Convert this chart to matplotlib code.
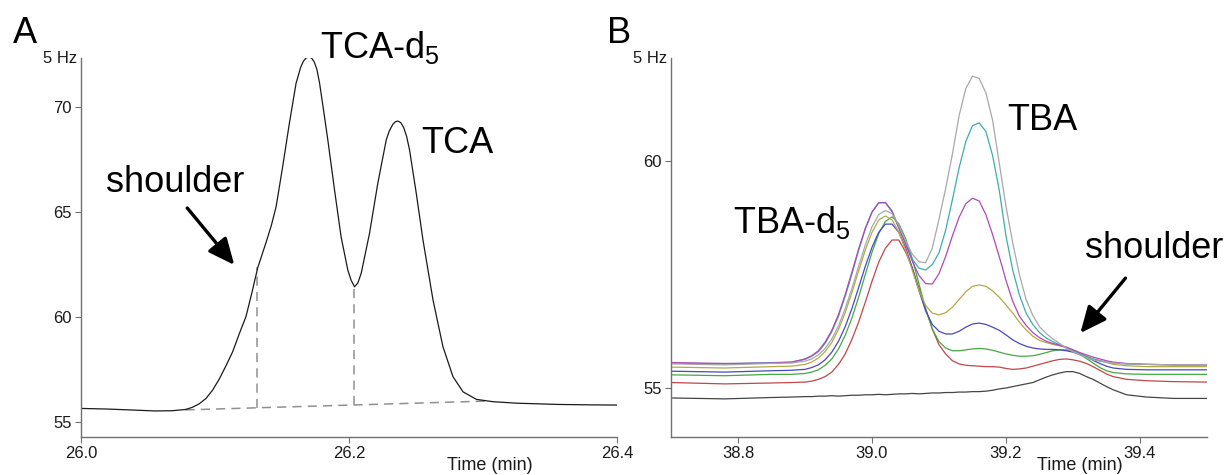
import matplotlib
matplotlib.use("Agg")
import matplotlib.pyplot as plt

plt.rcParams["font.family"] = ["Liberation Sans", "DejaVu Sans"]
plt.rcParams["mathtext.fontset"] = "custom"
plt.rcParams["mathtext.rm"] = "Liberation Sans"
plt.rcParams["mathtext.default"] = "regular"

# ── Panel A: TCA-d5 / TCA trace ──────────────────────────────────────────────
time_a = [26.000, 26.020, 26.040, 26.055, 26.068, 26.078, 26.083, 26.0882,
          26.0932, 26.0982, 26.1032, 26.1082, 26.1132, 26.1181, 26.1231,
          26.1275, 26.1319, 26.1350, 26.1381, 26.1420, 26.1456, 26.1505,
          26.1555, 26.1605, 26.1640, 26.1660, 26.1680, 26.1700, 26.1720,
          26.1740, 26.1760, 26.1780, 26.1810, 26.1842, 26.1892, 26.1941,
          26.1991, 26.2016, 26.2041, 26.2066, 26.2091, 26.2153, 26.2215,
          26.2278, 26.2300, 26.2328, 26.2347, 26.2365, 26.2387, 26.2408,
          26.2430, 26.2452, 26.2502, 26.2552, 26.2627, 26.2701, 26.2776,
          26.2851, 26.2951, 26.3075, 26.3250, 26.3560, 26.3800, 26.4000]
signal_a = [55.65, 55.62, 55.57, 55.53, 55.54, 55.60, 55.70, 55.87,
            56.12, 56.52, 57.05, 57.68, 58.35, 59.20, 60.02,
            61.15, 62.35, 62.95, 63.55, 64.35, 65.25, 67.16,
            69.22, 71.13, 71.90, 72.18, 72.33, 72.38, 72.33,
            72.15, 71.80, 71.15, 69.85, 68.43, 66.05, 63.82,
            62.24, 61.75, 61.44, 61.62, 62.08, 63.98, 66.37,
            68.43, 68.85, 69.18, 69.30, 69.33, 69.25, 69.02,
            68.60, 67.95, 65.89, 63.67, 60.81, 58.59, 57.16,
            56.44, 56.08, 55.97, 55.90, 55.84, 55.82, 55.81]

# integration baseline and drop lines (dashed)
baseline_t = [26.078, 26.3025]
baseline_v = [55.58, 56.00]
drop_t = [26.1313, 26.2041]
drop_low = [55.68, 55.83]
drop_high = [62.38, 61.44]

# ── Panel B: overlaid TBA-d5 / TBA traces ────────────────────────────────────
time_b = [38.70, 38.78, 38.85, 38.88, 38.90, 38.91, 38.92, 38.93, 38.94, 38.95,
          38.96, 38.97, 38.98, 38.99, 39.00, 39.01, 39.02, 39.03, 39.04, 39.05,
          39.06, 39.07, 39.08, 39.09, 39.10, 39.11, 39.12, 39.13, 39.14, 39.15,
          39.16, 39.17, 39.18, 39.19, 39.20, 39.21, 39.22, 39.23, 39.24, 39.25,
          39.26, 39.27, 39.28, 39.29, 39.30, 39.31, 39.32, 39.33, 39.34, 39.35,
          39.36, 39.38, 39.41, 39.45, 39.50]

trace_black = [54.78, 54.76, 54.79, 54.80, 54.81, 54.81, 54.82, 54.82, 54.83, 54.82,
               54.83, 54.84, 54.84, 54.85, 54.85, 54.86, 54.85, 54.86, 54.87, 54.87,
               54.88, 54.87, 54.88, 54.89, 54.89, 54.90, 54.90, 54.91, 54.91, 54.92,
               54.92, 54.93, 54.95, 54.98, 55.00, 55.03, 55.06, 55.09, 55.12, 55.18,
               55.24, 55.29, 55.33, 55.36, 55.36, 55.32, 55.25, 55.19, 55.11, 55.03,
               54.96, 54.85, 54.80, 54.77, 54.77]
trace_red = [55.12, 55.09, 55.11, 55.12, 55.13, 55.15, 55.19, 55.25, 55.35, 55.52,
             55.75, 56.07, 56.45, 56.89, 57.35, 57.77, 58.08, 58.26, 58.26, 58.00,
             57.65, 57.20, 56.75, 56.30, 55.95, 55.75, 55.60, 55.53, 55.50, 55.49,
             55.48, 55.47, 55.47, 55.46, 55.43, 55.41, 55.42, 55.44, 55.48, 55.52,
             55.56, 55.60, 55.63, 55.64, 55.62, 55.59, 55.54, 55.47, 55.39, 55.31,
             55.25, 55.19, 55.16, 55.14, 55.13]
trace_green = [55.29, 55.27, 55.30, 55.30, 55.32, 55.35, 55.40, 55.50, 55.64, 55.86,
               56.16, 56.54, 57.00, 57.50, 57.99, 58.40, 58.67, 58.77, 58.62, 58.30,
               57.85, 57.30, 56.75, 56.30, 56.02, 55.88, 55.82, 55.82, 55.84, 55.86,
               55.87, 55.86, 55.83, 55.79, 55.75, 55.72, 55.70, 55.70, 55.71, 55.74,
               55.78, 55.82, 55.84, 55.84, 55.81, 55.74, 55.65, 55.55, 55.45, 55.38,
               55.34, 55.31, 55.30, 55.30, 55.30]
trace_blue = [55.37, 55.35, 55.38, 55.39, 55.41, 55.45, 55.51, 55.62, 55.79, 56.03,
              56.35, 56.75, 57.21, 57.68, 58.10, 58.43, 58.61, 58.61, 58.43, 58.10,
              57.65, 57.15, 56.70, 56.40, 56.25, 56.19, 56.19, 56.25, 56.34, 56.41,
              56.43, 56.40, 56.34, 56.27, 56.17, 56.06, 55.98, 55.92, 55.88, 55.86,
              55.85, 55.85, 55.84, 55.82, 55.79, 55.74, 55.68, 55.61, 55.54, 55.48,
              55.44, 55.41, 55.40, 55.40, 55.40]
trace_olive = [55.46, 55.44, 55.47, 55.48, 55.52, 55.57, 55.66, 55.80, 56.00, 56.29,
               56.66, 57.10, 57.58, 58.04, 58.43, 58.70, 58.79, 58.70, 58.43, 58.05,
               57.60, 57.15, 56.82, 56.65, 56.61, 56.66, 56.78, 56.95, 57.12, 57.24,
               57.27, 57.24, 57.14, 57.00, 56.83, 56.65, 56.45, 56.28, 56.14, 56.05,
               56.00, 55.96, 55.93, 55.90, 55.84, 55.77, 55.70, 55.64, 55.60, 55.56,
               55.52, 55.49, 55.47, 55.47, 55.47]
trace_magenta = [55.56, 55.54, 55.55, 55.57, 55.64, 55.71, 55.82, 56.01, 56.27, 56.62,
                 57.06, 57.55, 58.06, 58.52, 58.88, 59.08, 59.08, 58.88, 58.52, 58.18,
                 57.80, 57.48, 57.30, 57.29, 57.52, 57.90, 58.35, 58.76, 59.06, 59.18,
                 59.12, 58.82, 58.38, 57.89, 57.37, 56.91, 56.58, 56.38, 56.22, 56.11,
                 56.03, 55.98, 55.94, 55.90, 55.84, 55.78, 55.73, 55.68, 55.64, 55.60,
                 55.57, 55.54, 55.52, 55.51, 55.51]
trace_teal = [55.55, 55.53, 55.56, 55.57, 55.63, 55.70, 55.80, 55.98, 56.24, 56.58,
              57.02, 57.51, 58.03, 58.50, 58.87, 59.08, 59.09, 58.90, 58.54, 58.20,
              57.84, 57.64, 57.60, 57.72, 57.98, 58.48, 59.15, 59.85, 60.43, 60.78,
              60.84, 60.65, 60.12, 59.35, 58.35, 57.60, 57.05, 56.65, 56.40, 56.22,
              56.10, 56.02, 55.95, 55.88, 55.81, 55.75, 55.69, 55.64, 55.60, 55.57,
              55.55, 55.53, 55.52, 55.51, 55.51]
trace_gray = [55.53, 55.51, 55.54, 55.55, 55.59, 55.64, 55.73, 55.87, 56.08, 56.37,
              56.75, 57.19, 57.68, 58.15, 58.55, 58.82, 58.91, 58.84, 58.58, 58.25,
              57.95, 57.78, 57.76, 58.08, 58.72, 59.40, 60.15, 61.00, 61.60, 61.87,
              61.82, 61.50, 60.90, 59.95, 59.00, 58.20, 57.50, 56.95, 56.60, 56.35,
              56.20, 56.08, 55.98, 55.88, 55.80, 55.73, 55.67, 55.62, 55.59, 55.57,
              55.55, 55.53, 55.52, 55.51, 55.51]

traces_b = [
    (trace_black, "#454545"),
    (trace_red, "#c0474a"),
    (trace_green, "#45a845"),
    (trace_blue, "#4848c4"),
    (trace_olive, "#b3aa45"),
    (trace_teal, "#3aadb0"),
    (trace_magenta, "#b048b8"),
    (trace_gray, "#a8a8a8"),
]

AXIS_GREY = "#707070"


def style_axis(ax, xlim, ylim, xticks, yticks, xlabels):
    ax.set_xlim(*xlim)
    ax.set_ylim(*ylim)
    for side in ("top", "right"):
        ax.spines[side].set_visible(False)
    for side in ("left", "bottom"):
        ax.spines[side].set_color(AXIS_GREY)
        ax.spines[side].set_linewidth(1.0)
    ax.set_xticks(xticks)
    ax.set_xticklabels(xlabels)
    ax.set_yticks(yticks)
    ax.tick_params(direction="out", length=4, width=0.8, color=AXIS_GREY,
                   labelsize=12, labelcolor="#1a1a1a", pad=2.5)
    ax.text(-0.008, 1.0, "5 Hz", transform=ax.transAxes, ha="right",
            va="center", fontsize=12, color="#1a1a1a")
    ax.text(0.762, -0.052, "Time (min)", transform=ax.transAxes, ha="center",
            va="top", fontsize=13, color="#1a1a1a", clip_on=False)


fig = plt.figure(figsize=(12.24, 4.75), dpi=100)
axA = fig.add_axes([81 / 1224, 1 - 437 / 475, 536 / 1224, 379 / 475])
axB = fig.add_axes([671 / 1224, 1 - 437 / 475, 536 / 1224, 379 / 475])

# ── Panel A ──────────────────────────────────────────────────────────────────
style_axis(axA, (26.0, 26.4), (54.29, 72.33), [26.0, 26.2, 26.4],
           [55, 60, 65, 70], ["26.0", "26.2", "26.4"])
axA.plot(baseline_t, baseline_v, color="#909090", lw=1.1, ls=(0, (6, 4)))
for t, lo, hi in zip(drop_t, drop_low, drop_high):
    axA.plot([t, t], [lo, hi], color="#909090", lw=1.1, ls=(0, (6, 4)))
axA.plot(time_a, signal_a, color="#1a1a1a", lw=0.9)

axA.text(26.178, 72.33, "TCA-d$_5$", fontsize=26, va="baseline", clip_on=False)
axA.text(26.254, 67.81, "TCA", fontsize=26, va="baseline")
axA.text(26.019, 65.95, "shoulder", fontsize=26, va="baseline")
axA.annotate("", xy=(26.1144, 62.48), xytext=(26.0793, 65.19),
             arrowprops=dict(arrowstyle="-|>,head_length=1.0,head_width=0.45",
                             mutation_scale=16, lw=2.4, color="black",
                             shrinkA=0, shrinkB=0))

# ── Panel B ──────────────────────────────────────────────────────────────────
style_axis(axB, (38.70, 39.50), (53.92, 62.27), [38.8, 39.0, 39.2, 39.4],
           [55, 60], ["38.8", "39.0", "39.2", "39.4"])
for values, color in traces_b:
    axB.plot(time_b, values, color=color, lw=0.9)

axB.text(39.2018, 60.68, "TBA", fontsize=26, va="baseline")
axB.text(38.7918, 58.41, "TBA-d$_5$", fontsize=26, va="baseline")
axB.text(39.3185, 57.86, "shoulder", fontsize=26, va="baseline", clip_on=False)
axB.annotate("", xy=(39.311, 56.21), xytext=(39.3783, 57.42),
             arrowprops=dict(arrowstyle="-|>,head_length=1.0,head_width=0.45",
                             mutation_scale=16, lw=2.4, color="black",
                             shrinkA=0, shrinkB=0))

# panel letters
fig.text(13 / 1224, 1 - 43 / 475, "A", fontsize=26, va="baseline")
fig.text(607 / 1224, 1 - 43 / 475, "B", fontsize=26, va="baseline")

fig.savefig("out.png", dpi=100)
